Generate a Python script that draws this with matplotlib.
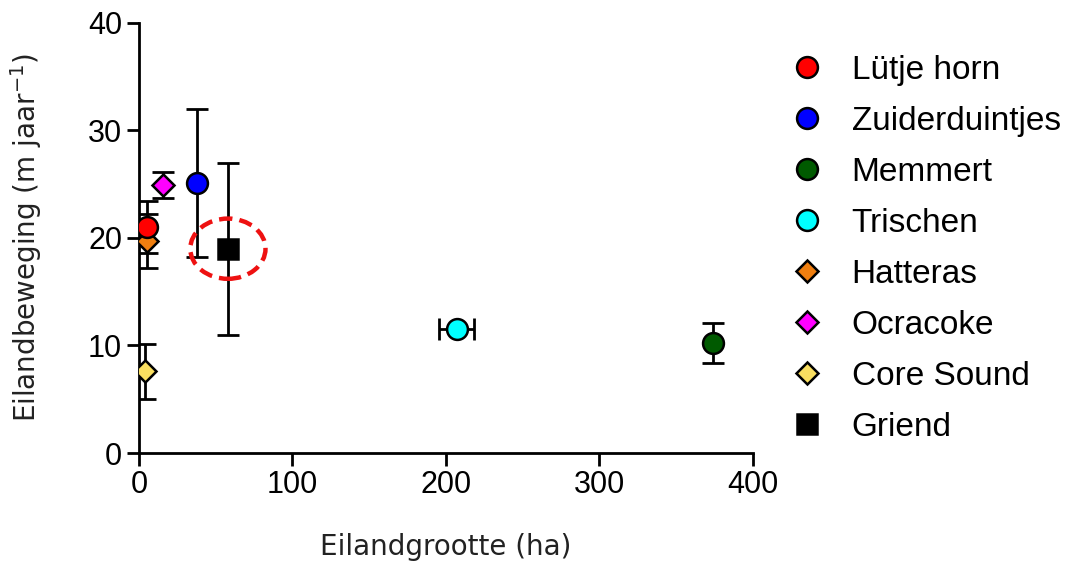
import numpy as np
import matplotlib
matplotlib.use("Agg")
import matplotlib.pyplot as plt
from matplotlib.patches import Ellipse
from matplotlib.lines import Line2D

plt.rcParams.update({"font.family": ["Liberation Sans", "DejaVu Sans"],
                     "mathtext.default": "regular"})

names = ["Lütje horn", "Zuiderduintjes", "Memmert", "Trischen",
         "Hatteras", "Ocracoke", "Core Sound", "Griend"]
size_ha = [5.0, 38.0, 374.0, 207.0, 5.5, 15.5, 4.0, 58.0]
size_err = [0, 0, 0, 11.6, 0, 0, 0, 0]
move = [21.0, 25.1, 10.2, 11.5, 19.7, 24.9, 7.6, 19.0]
move_err = [2.4, 6.9, 1.85, 0, 2.5, 1.2, 2.55, 8.0]
colors = ["#FF0000", "#0000FF", "#005A00", "#00FFFF",
          "#F07F10", "#FF00FF", "#FADF60", "#000000"]
markers = ["o", "o", "o", "o", "D", "D", "D", "s"]
msizes = [15, 15, 15, 15, 11.5, 11.5, 11.5, 14]
zord = [6, 5, 5, 5, 4, 5, 5, 5]

fig = plt.figure(figsize=(10.68, 5.72), dpi=100)
ax = fig.add_axes([0.130, 0.208, 0.575, 0.752])

for i in range(len(names)):
    ax.errorbar(size_ha[i], move[i], yerr=move_err[i] or None,
                xerr=size_err[i] or None, fmt="none", ecolor="black",
                elinewidth=2.0, capsize=8, capthick=2.0, zorder=3)
    ax.plot(size_ha[i], move[i], marker=markers[i], ms=msizes[i],
            mfc=colors[i], mec="black", mew=1.8, ls="none", zorder=zord[i])

# red dashed ring around Griend
ax.add_patch(Ellipse((size_ha[7], move[7]), 49, 5.6, fill=False,
                     ec="#EE1111", lw=3.2, ls=(0, (3, 1.6)), zorder=7))

ax.set_xlim(0, 400); ax.set_ylim(0, 40)
ax.set_xticks([0, 100, 200, 300, 400]); ax.set_yticks([0, 10, 20, 30, 40])
for s in ("top", "right"):
    ax.spines[s].set_visible(False)
for s in ("left", "bottom"):
    ax.spines[s].set_linewidth(2.0)
ax.tick_params(direction="out", length=9, width=2.0, labelsize=22, pad=3)
ax.set_xlabel("Eilandgrootte (ha)", family="DejaVu Sans", fontsize=20,
              color="#222222", labelpad=24)
ax.set_ylabel("Eilandbeweging (m jaar$^{-1}$)", family="DejaVu Sans",
              fontsize=20, color="#222222", labelpad=32)

handles = [Line2D([], [], marker=m, ms=s, mfc=c, mec="black", mew=1.8, ls="none")
           for m, s, c in zip(markers, msizes, colors)]
fig.legend(handles, names, loc="upper left", bbox_to_anchor=(0.724, 0.933),
           frameon=False, fontsize=24, numpoints=1, handlelength=1.0,
           handletextpad=0.85, labelspacing=0.6, borderpad=0)

fig.savefig("out.png", dpi=100)
